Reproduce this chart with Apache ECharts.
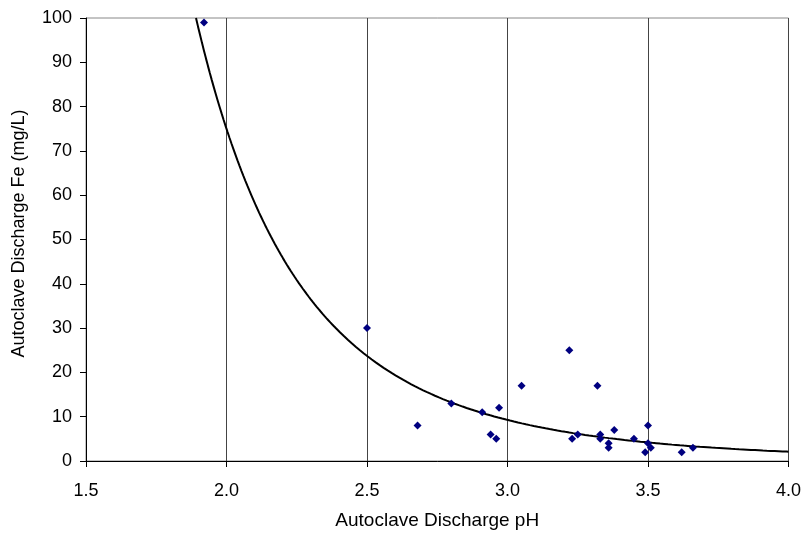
<!DOCTYPE html>
<html>
<head>
<meta charset="utf-8">
<script src="https://cdn.jsdelivr.net/npm/echarts@6/dist/echarts.min.js"></script>
<style>html,body{margin:0;padding:0;background:#fff}#c{width:804px;height:535px}</style>
</head>
<body>
<div id="c"></div>
<script>
// Autoclave discharge pH (x) and Fe mg/L (y)
var phValues = [1.92, 2.50, 2.68, 2.80, 2.91, 2.97, 2.94, 2.96, 3.05, 3.22, 3.32, 3.23, 3.25, 3.33, 3.33, 3.36, 3.36, 3.38, 3.45, 3.50, 3.50, 3.49, 3.51, 3.62, 3.66];
var feValues = [99, 30, 8, 13, 11, 12, 6, 5, 17, 25, 17, 5, 6, 6, 5, 4, 3, 7, 5, 8, 4, 2, 3, 2, 3];
var xTicks = [1.5, 2.0, 2.5, 3.0, 3.5, 4.0];
var yTicks = [0, 10, 20, 30, 40, 50, 60, 70, 80, 90, 100];

// Power trendline (least squares on ln y vs ln x, as a spreadsheet does)
function powerFit(xs, ys) {
  var n = xs.length, mx = 0, my = 0, i;
  for (i = 0; i < n; i++) { mx += Math.log(xs[i]); my += Math.log(ys[i]); }
  mx /= n; my /= n;
  var sxx = 0, sxy = 0;
  for (i = 0; i < n; i++) {
    var dx = Math.log(xs[i]) - mx, dy = Math.log(ys[i]) - my;
    sxx += dx * dx; sxy += dx * dy;
  }
  var b = sxy / sxx;
  return { a: Math.exp(my - b * mx), b: b };
}
var fit = powerFit(phValues, feValues);
var trend = [];
var x0 = Math.pow(fit.a / 100, -1 / fit.b);
var steps = 300;
for (var k = 0; k <= steps; k++) {
  var x = x0 + (4.0 - x0) * k / steps;
  trend.push([x, fit.a * Math.pow(x, fit.b)]);
}
var points = phValues.map(function (v, i) { return [v, feValues[i]]; });

var font = 'Liberation Sans, Arial, sans-serif';
var chart = echarts.init(document.getElementById('c'), null, { renderer: 'canvas' });
chart.setOption({
  animation: false,
  backgroundColor: '#fff',
  grid: { left: 86, right: 15, top: 18, bottom: 71, show: true, borderColor: '#888', borderWidth: 1, backgroundColor: 'transparent' },
  xAxis: {
    type: 'value', min: xTicks[0], max: xTicks[xTicks.length - 1], interval: 0.5,
    name: 'Autoclave Discharge pH', nameLocation: 'middle', nameGap: 50,
    nameTextStyle: { fontFamily: font, fontSize: 19, color: '#000' },
    axisLine: { show: true, onZero: false, lineStyle: { color: '#000', width: 1 } },
    axisTick: { show: true, inside: false, length: 6, lineStyle: { color: '#000' } },
    axisLabel: { margin: 21, fontFamily: font, fontSize: 18, color: '#000', formatter: function (v) { return v.toFixed(1); } },
    splitLine: { show: true, lineStyle: { color: '#444', width: 1 } }
  },
  yAxis: {
    type: 'value', min: yTicks[0], max: yTicks[yTicks.length - 1], interval: 10,
    name: 'Autoclave Discharge Fe (mg/L)', nameLocation: 'middle', nameGap: 58,
    nameTextStyle: { fontFamily: font, fontSize: 18, color: '#000', padding: [0, 0, 0, 12] },
    axisLine: { show: true, lineStyle: { color: '#000', width: 1 } },
    axisTick: { show: true, inside: false, length: 6, lineStyle: { color: '#000' } },
    axisLabel: { margin: 14, fontFamily: font, fontSize: 18, color: '#000' },
    splitLine: { show: false }
  },
  series: [
    {
      type: 'line', data: trend, showSymbol: false, smooth: false, clip: true,
      lineStyle: { color: '#000', width: 2 }, z: 3
    },
    {
      type: 'scatter', data: points, symbol: 'diamond', symbolSize: 8,
      itemStyle: { color: '#000080', opacity: 1 }, z: 4
    }
  ]
});
</script>
</body>
</html>
